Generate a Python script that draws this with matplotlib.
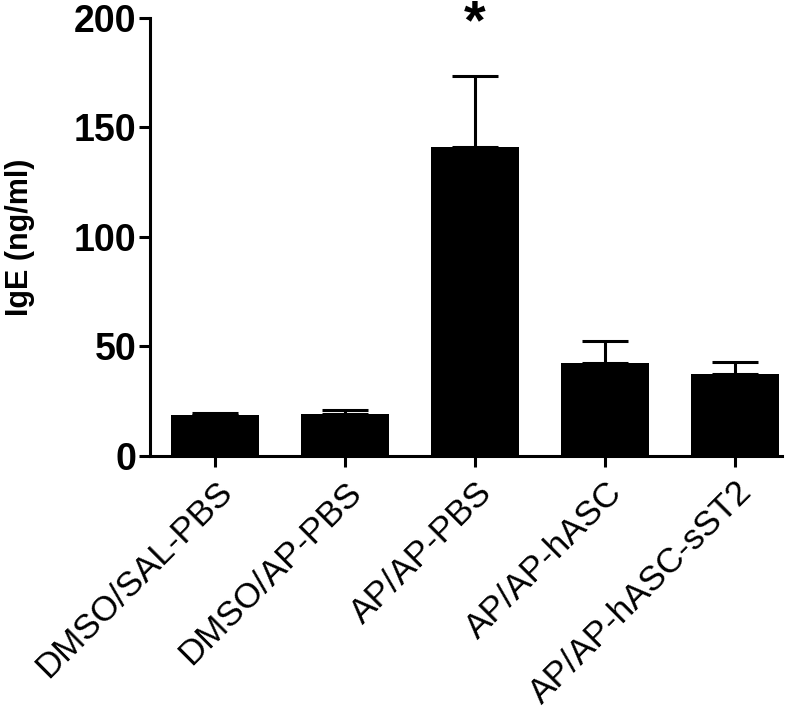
import matplotlib.pyplot as plt
import matplotlib.transforms as mtransforms
import numpy as np

plt.rcParams["font.family"] = ["Liberation Sans", "DejaVu Sans"]

groups = ["DMSO/SAL-PBS", "DMSO/AP-PBS", "AP/AP-PBS", "AP/AP-hASC", "AP/AP-hASC-sST2"]
means = [18.6, 19.4, 141.0, 42.5, 37.3]
sem = [1.2, 1.6, 32.5, 10.2, 5.7]
yticks = [0, 50, 100, 150, 200]

fig = plt.figure(figsize=(8, 7.17), dpi=100)
ax = fig.add_axes([0.1875, 0.364, 0.79, 0.611])

x = np.arange(len(groups))
ax.bar(x, means, width=0.68, color="black", zorder=2)
ax.errorbar(x, means, yerr=[np.zeros(len(sem)), sem], fmt="none",
            ecolor="black", elinewidth=2.2, capsize=16.5, capthick=2.2,
            zorder=1)

# significance mark above the AP/AP-PBS bar
ax.text(2, 197, "*", ha="center", va="center", fontsize=40,
        fontweight="bold", clip_on=False)

ax.set_ylim(0, 200)
ax.set_xlim(-0.5, 4.36)
ax.set_yticks(yticks)
ax.set_yticklabels([str(t) for t in yticks], fontsize=27, fontweight="bold")
ax.set_xticks(x)
ax.set_xticklabels(groups, rotation=45, ha="right", rotation_mode="anchor",
                   fontsize=25.2)
shift = mtransforms.ScaledTranslation(-18 / 72, 2 / 72, fig.dpi_scale_trans)
for lab in ax.get_xticklabels():
    lab.set_transform(lab.get_transform() + shift)
ax.set_ylabel("IgE (ng/ml)", fontsize=22, fontweight="bold", labelpad=28)

for s in ["top", "right"]:
    ax.spines[s].set_visible(False)
for s in ["left", "bottom"]:
    ax.spines[s].set_linewidth(2.2)
ax.tick_params(axis="both", width=2.2, length=8, direction="out")
ax.tick_params(axis="y", pad=2)
ax.tick_params(axis="x", pad=6)

fig.savefig("out.png", dpi=100)
